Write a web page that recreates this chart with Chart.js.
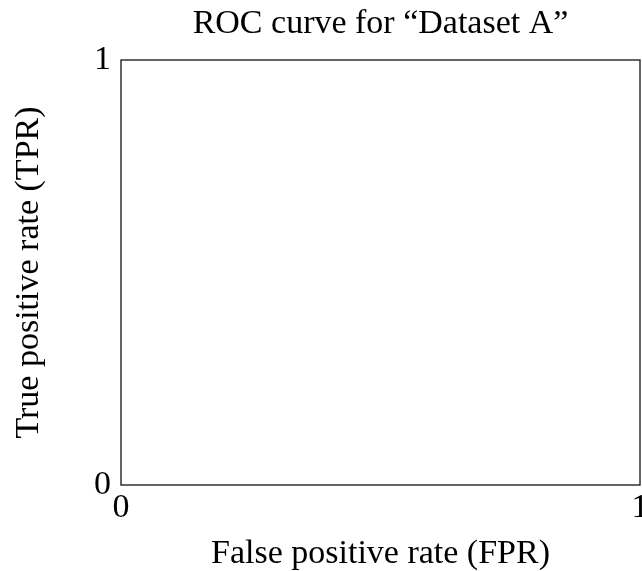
<!DOCTYPE html>
<html>
<head>
<meta charset="utf-8">
<script src="https://cdn.jsdelivr.net/npm/chart.js@4/dist/chart.umd.min.js"></script>
<style>
  html, body { margin: 0; padding: 0; background: #fff; }
  #wrap { width: 642px; height: 571px; }
</style>
</head>
<body>
<div id="wrap"><canvas id="roc"></canvas></div>
<script>
// data: the ROC plot is empty, only the axes are drawn
const fprValues = [];
const tprValues = [];
const xTicks = [0, 1];
const yTicks = [0, 1];

const serif = "'Liberation Serif', 'DejaVu Serif', serif";
const textFont = { family: serif, size: 34, weight: 'normal', lineHeight: 1 };

// draws the closed box round the plot area
const boxPlugin = {
  id: 'box',
  afterDraw(chart) {
    const a = chart.chartArea;
    const ctx = chart.ctx;
    ctx.save();
    ctx.strokeStyle = '#111';
    ctx.lineWidth = 1.3;
    ctx.strokeRect(a.left, a.top, a.right - a.left, a.bottom - a.top);
    ctx.restore();
  }
};

new Chart(document.getElementById('roc'), {
  type: 'line',
  data: {
    datasets: [{
      data: fprValues.map((x, i) => ({ x: x, y: tprValues[i] })),
      borderColor: '#000',
      pointRadius: 0
    }]
  },
  options: {
    responsive: true,
    maintainAspectRatio: false,
    animation: false,
    layout: { padding: { left: 0, right: 2, top: 0, bottom: 0 } },
    plugins: {
      legend: { display: false },
      tooltip: { enabled: false },
      title: {
        display: true,
        text: 'ROC curve for \u201cDataset A\u201d',
        fullSize: false,
        color: '#000',
        font: textFont,
        padding: { top: 7, bottom: 19 }
      }
    },
    scales: {
      x: {
        type: 'linear',
        min: 0,
        max: 1,
        afterBuildTicks: s => { s.ticks = xTicks.map(v => ({ value: v })); },
        afterFit: s => { s.paddingLeft = 0; s.paddingRight = 0; },
        grid: { display: false, drawTicks: false },
        border: { display: false },
        ticks: { color: '#000', padding: 6, maxRotation: 0, font: textFont },
        title: {
          display: true,
          text: 'False positive rate (FPR)',
          color: '#000',
          font: textFont,
          padding: { top: 6, bottom: 0 }
        }
      },
      y: {
        type: 'linear',
        min: 0,
        max: 1,
        afterBuildTicks: s => { s.ticks = yTicks.map(v => ({ value: v })); },
        afterFit: s => { s.width = 121; s.paddingTop = 0; s.paddingBottom = 0; },
        grid: { display: false, drawTicks: false },
        border: { display: false },
        ticks: { color: '#000', padding: 10, font: textFont },
        title: {
          display: true,
          text: 'True positive rate (TPR)',
          color: '#000',
          font: textFont,
          padding: { top: 12, bottom: 0 }
        }
      }
    }
  },
  plugins: [boxPlugin]
});
</script>
</body>
</html>
